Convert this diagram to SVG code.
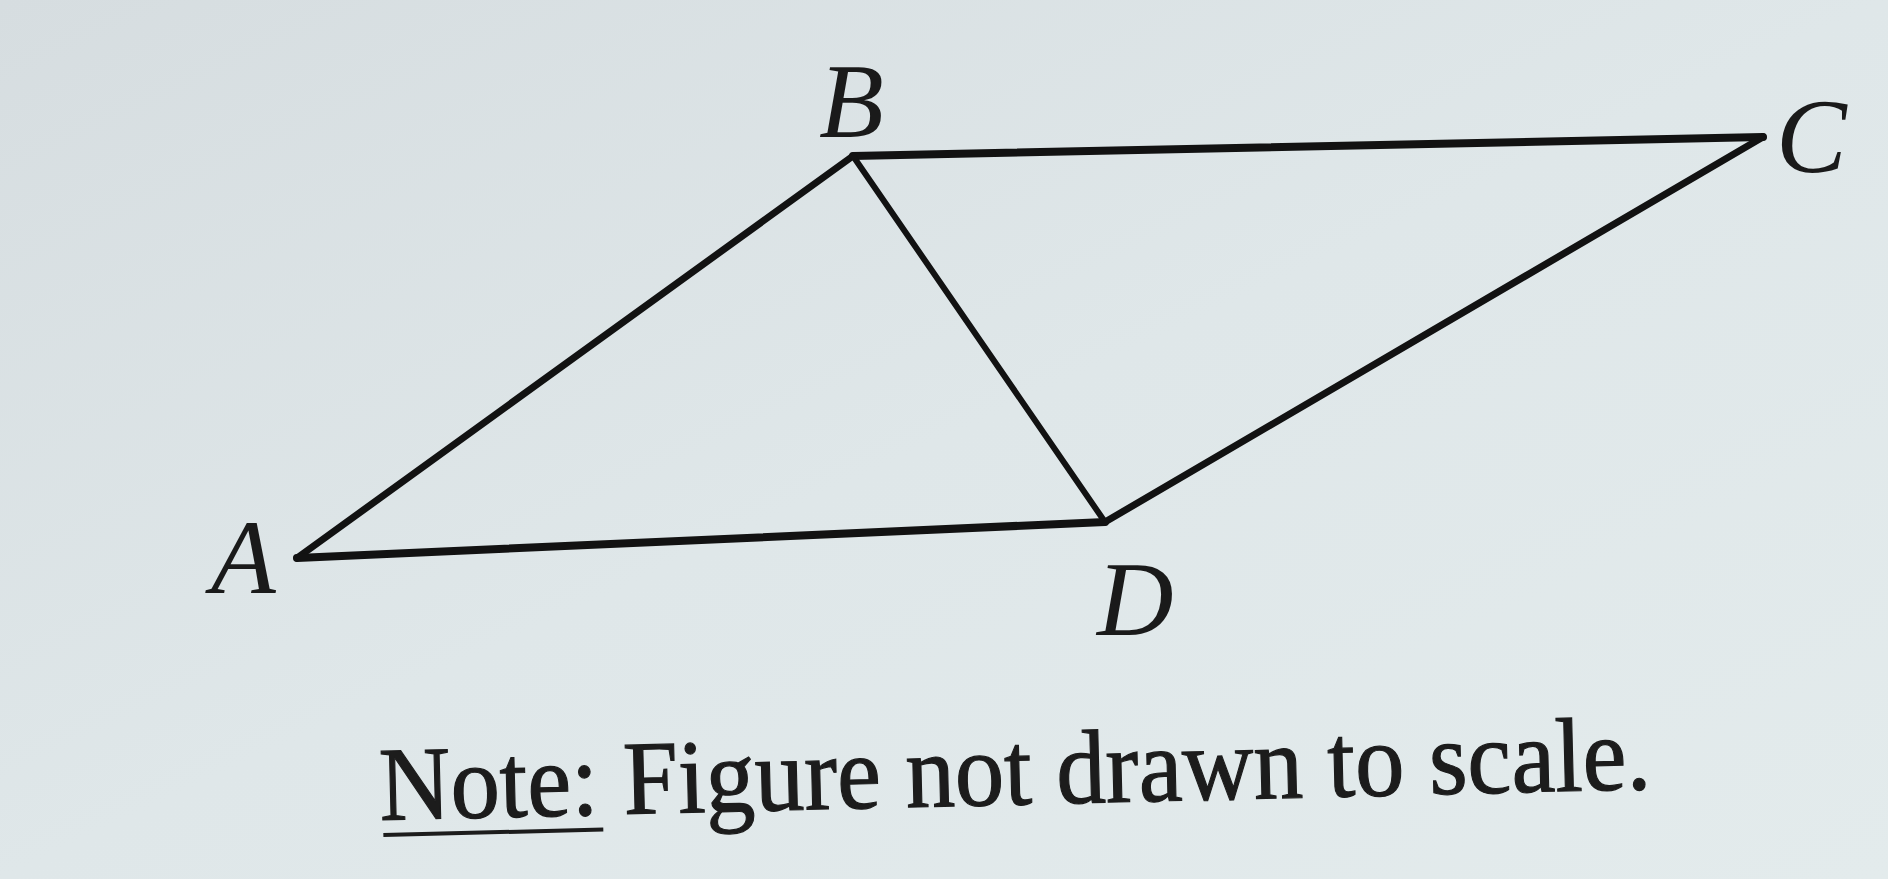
<svg xmlns="http://www.w3.org/2000/svg" width="1888" height="879" viewBox="0 0 1888 879">
  <defs>
    <linearGradient id="bg" x1="0" y1="0" x2="1" y2="1">
      <stop offset="0" stop-color="#d6dde0"/>
      <stop offset="0.5" stop-color="#dfe7e9"/>
      <stop offset="1" stop-color="#e3ebec"/>
    </linearGradient>
  </defs>
  <style>
    .edge { stroke: #121212; stroke-linecap: round; stroke-linejoin: round; fill: none; }
    .lbl { font-family: "Liberation Serif", "Times New Roman", serif; font-style: italic; font-size: 106px; fill: #1a1a1a; }
    .note { font-family: "Liberation Serif", "Times New Roman", serif; font-size: 105px; fill: #1c1c1c; stroke: #1c1c1c; stroke-width: 1.2px; }
  </style>
  <rect x="0" y="0" width="1888" height="879" fill="url(#bg)"/>
  <g id="connectors">
    <line id="AB" class="edge" x1="297" y1="558" x2="853" y2="156" stroke-width="7"/>
    <line id="BC" class="edge" x1="853" y1="156" x2="1763" y2="137" stroke-width="8"/>
    <line id="BD" class="edge" x1="853" y1="156" x2="1105" y2="522" stroke-width="6"/>
    <line id="CD" class="edge" x1="1763" y1="137" x2="1105" y2="522" stroke-width="7"/>
    <line id="AD" class="edge" x1="297" y1="558" x2="1105" y2="522" stroke-width="8"/>
  </g>
  <g id="node-A"><text class="lbl" x="211" y="593">A</text></g>
  <g id="node-B"><text class="lbl" x="819" y="137">B</text></g>
  <g id="node-C"><text class="lbl" x="1776" y="172">C</text></g>
  <g id="node-D"><text class="lbl" x="1097" y="635">D</text></g>
  <g id="note" transform="rotate(-1.4 380 820)">
    <text class="note" x="380" y="820" textLength="1272" lengthAdjust="spacingAndGlyphs">Note: Figure not drawn to scale.</text>
    <line x1="383" y1="835" x2="603" y2="835" stroke="#1c1c1c" stroke-width="4"/>
  </g>
</svg>
